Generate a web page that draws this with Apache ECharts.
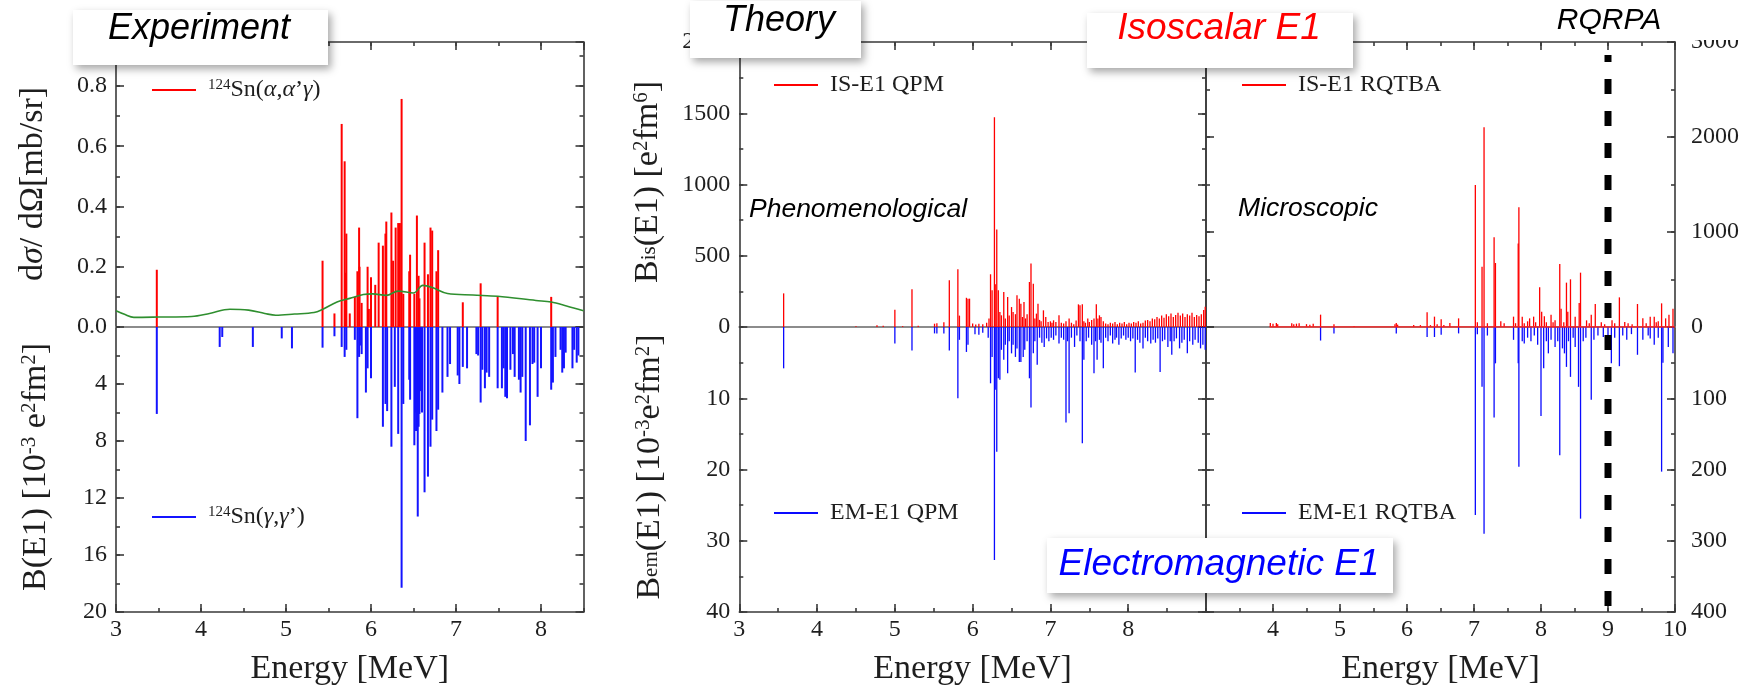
<!DOCTYPE html>
<html><head><meta charset="utf-8">
<script src="https://cdn.jsdelivr.net/npm/echarts@6/dist/echarts.min.js"></script>
<style>html,body{margin:0;padding:0;background:#fff}#c{width:1752px;height:691px}</style>
</head><body><div id="c"></div>
<script>
// ---------------- DATA ----------------
// Experiment: 124Sn(alpha,alpha'gamma) cross sections [mb/sr]  [energy MeV, value]
const expAlpha = [[3.48,0.19],[5.43,0.22],[5.57,0.045],[5.655,0.674],[5.69,0.55],[5.70,0.18],[5.71,0.31],[5.75,0.045],[5.81,0.10],[5.84,0.185],[5.86,0.33],[5.865,0.20],[5.89,0.08],[5.96,0.20],[5.975,0.06],[6.0,0.165],[6.05,0.14],[6.09,0.28],[6.14,0.27],[6.17,0.31],[6.18,0.35],[6.24,0.38],[6.26,0.22],[6.29,0.33],[6.32,0.345],[6.34,0.345],[6.36,0.757],[6.38,0.11],[6.45,0.185],[6.46,0.24],[6.51,0.11],[6.54,0.37],[6.56,0.17],[6.57,0.095],[6.63,0.28],[6.67,0.175],[6.70,0.33],[6.72,0.32],[6.77,0.185],[6.79,0.255],[7.08,0.082],[7.29,0.145],[7.49,0.10],[8.12,0.10]];
// Experiment: 124Sn(gamma,gamma') B(E1) [1e-3 e^2fm^2]
const expGamma = [[3.48,6.1],[4.22,1.4],[4.25,0.7],[4.61,1.4],[4.95,0.8],[5.07,1.5],[5.43,1.45],[5.57,0.65],[5.655,1.4],[5.69,2.1],[5.71,1.6],[5.81,0.9],[5.84,6.4],[5.86,2.1],[5.87,1.3],[5.89,1.9],[5.94,4.6],[5.96,2.9],[6.0,3.6],[6.14,7.0],[6.17,5.4],[6.19,5.9],[6.24,8.4],[6.28,4.2],[6.32,7.5],[6.36,18.3],[6.38,5.4],[6.45,3.7],[6.46,5.1],[6.51,8.3],[6.52,6.0],[6.53,7.3],[6.54,5.0],[6.55,13.3],[6.56,7.0],[6.57,6.1],[6.58,4.5],[6.59,3.4],[6.60,6.0],[6.63,11.6],[6.67,10.5],[6.70,8.4],[6.72,6.5],[6.77,7.3],[6.79,5.8],[6.84,4.6],[6.90,3.5],[6.93,2.6],[7.02,3.4],[7.04,4.0],[7.08,2.8],[7.13,2.9],[7.24,1.9],[7.26,2.0],[7.29,5.3],[7.31,3.0],[7.34,4.3],[7.36,3.2],[7.39,3.5],[7.49,4.3],[7.54,4.3],[7.56,2.9],[7.58,4.9],[7.60,5.0],[7.64,3.0],[7.67,1.9],[7.69,3.5],[7.74,3.7],[7.76,4.6],[7.78,3.5],[7.82,8.0],[7.87,6.9],[7.90,2.6],[7.92,2.5],[7.96,4.9],[8.00,2.9],[8.12,4.4],[8.14,3.9],[8.17,2.1],[8.23,1.6],[8.25,3.2],[8.27,2.9],[8.29,1.8],[8.37,2.9],[8.39,1.6],[8.42,2.5],[8.44,2.0]];
// Experiment: green smooth curve
const expCurve = [[3.0,0.054],[3.1,0.042],[3.21,0.032],[3.5,0.033],[3.89,0.035],[4.1,0.045],[4.34,0.059],[4.56,0.056],[4.75,0.045],[4.88,0.039],[5.1,0.043],[5.33,0.048],[5.42,0.057],[5.6,0.083],[5.75,0.095],[5.91,0.108],[6.02,0.11],[6.18,0.105],[6.32,0.119],[6.5,0.113],[6.61,0.138],[6.72,0.131],[6.9,0.111],[7.2,0.106],[7.49,0.102],[7.94,0.088],[8.12,0.083],[8.3,0.07],[8.5,0.054]];
// Theory QPM: isoscalar B_is(E1) [e^2fm^6]
const qpmIS = [[3.57,236],[4.5,5],[4.77,12],[4.85,8],[5.0,121],[5.1,6],[5.22,265],[5.3,8],[5.51,23],[5.54,27],[5.63,33],[5.70,328],[5.81,405],[5.83,80],[5.92,205],[5.94,199],[5.96,199],[6.0,25],[6.04,18],[6.08,22],[6.13,20],[6.18,30],[6.21,60],[6.23,370],[6.25,258],[6.28,1472],[6.29,300],[6.31,685],[6.33,258],[6.35,105],[6.37,82],[6.40,246],[6.42,60],[6.45,211],[6.47,80],[6.50,140],[6.52,105],[6.55,90],[6.57,222],[6.60,199],[6.62,164],[6.64,70],[6.66,176],[6.68,60],[6.70,90],[6.73,316],[6.75,445],[6.78,304],[6.80,60],[6.82,94],[6.84,164],[6.86,50],[6.88,40],[6.91,117],[6.94,70],[6.97,35],[7.0,40],[7.02,30],[7.04,47],[7.07,35],[7.11,82],[7.14,30],[7.17,25],[7.2,40],[7.24,59],[7.27,30],[7.3,20],[7.33,45],[7.36,159],[7.38,152],[7.41,159],[7.43,40],[7.45,30],[7.48,59],[7.5,35],[7.53,50],[7.56,60],[7.59,159],[7.61,60],[7.63,82],[7.65,70],[7.68,40],[7.71,25],[7.74,20],[7.77,30],[7.8,25],[7.83,35],[7.86,20],[7.89,30],[7.92,25],[7.95,35],[7.98,20],[8.01,30],[8.04,25],[8.07,35],[8.1,30],[8.13,40],[8.16,25],[8.19,30],[8.22,45],[8.25,50],[8.28,40],[8.31,60],[8.34,55],[8.37,70],[8.4,60],[8.43,80],[8.46,65],[8.49,90],[8.52,75],[8.55,95],[8.58,70],[8.61,85],[8.64,100],[8.67,80],[8.7,95],[8.73,70],[8.76,90],[8.79,80],[8.82,100],[8.85,70],[8.88,85],[8.91,75],[8.94,90],[8.97,120],[8.99,142]];
// Theory QPM: electromagnetic B_em(E1) [1e-3 e^2fm^2]
const qpmEM = [[3.57,5.8],[5.0,2.3],[5.22,3.3],[5.51,0.9],[5.54,0.9],[5.63,0.9],[5.70,3.3],[5.81,10.0],[5.83,1.8],[5.92,3.5],[5.94,2.5],[6.03,1.0],[6.08,1.1],[6.13,0.8],[6.2,1.5],[6.23,7.9],[6.25,4.2],[6.28,32.7],[6.29,8.8],[6.31,17.5],[6.33,7.2],[6.35,7.4],[6.37,3.2],[6.40,4.6],[6.42,2.5],[6.45,6.5],[6.47,2.0],[6.50,3.7],[6.52,2.5],[6.55,4.2],[6.57,3.0],[6.60,4.9],[6.62,4.9],[6.65,4.2],[6.67,3.2],[6.70,2.0],[6.73,7.2],[6.75,11.3],[6.78,3.7],[6.80,2.0],[6.83,5.3],[6.86,1.5],[6.89,2.2],[6.92,2.8],[6.95,1.6],[6.98,2.0],[7.01,1.5],[7.04,1.8],[7.07,1.2],[7.11,2.3],[7.14,1.5],[7.17,1.8],[7.20,13.4],[7.22,2.0],[7.24,12.1],[7.27,1.5],[7.31,2.8],[7.34,1.2],[7.38,2.0],[7.41,16.3],[7.43,4.6],[7.46,2.0],[7.49,1.5],[7.53,2.5],[7.56,6.5],[7.58,2.0],[7.60,4.6],[7.63,1.8],[7.65,2.2],[7.68,5.8],[7.71,1.5],[7.74,2.0],[7.77,1.2],[7.80,2.3],[7.83,1.8],[7.85,1.5],[7.88,2.5],[7.91,1.6],[7.94,1.2],[7.97,1.8],[8.0,1.5],[8.03,2.0],[8.06,1.6],[8.09,6.4],[8.12,1.8],[8.15,2.2],[8.19,3.0],[8.22,1.5],[8.25,2.0],[8.29,2.3],[8.32,1.8],[8.35,2.2],[8.38,1.6],[8.41,6.3],[8.44,2.0],[8.47,1.8],[8.51,2.8],[8.54,2.0],[8.56,3.9],[8.59,2.0],[8.62,1.6],[8.66,3.0],[8.69,2.2],[8.72,1.8],[8.76,3.7],[8.79,2.0],[8.83,2.5],[8.86,1.8],[8.9,2.2],[8.93,3.0],[8.96,2.5],[8.99,3.2]];
// Theory RQTBA: isoscalar (right axis, e^2fm^6)
const rqtbaIS = [[3.96,42],[4.0,35],[4.05,42],[4.07,30],[4.28,40],[4.31,30],[4.35,35],[4.39,40],[4.5,30],[4.55,25],[4.6,35],[4.71,130],[4.91,30],[5.21,10],[5.82,30],[5.84,42],[5.86,25],[6.1,20],[6.2,20],[6.30,154],[6.35,20],[6.41,109],[6.45,30],[6.51,81],[6.55,20],[6.64,42],[6.77,91],[7.02,1495],[7.05,50],[7.12,635],[7.15,2102],[7.2,40],[7.30,944],[7.32,674],[7.4,60],[7.45,40],[7.59,109],[7.62,40],[7.66,879],[7.67,1260],[7.72,109],[7.75,40],[7.80,60],[7.83,91],[7.89,109],[7.92,50],[7.98,418],[8.01,161],[8.05,112],[8.08,50],[8.15,130],[8.18,50],[8.21,70],[8.28,663],[8.30,193],[8.34,50],[8.38,467],[8.40,161],[8.44,502],[8.51,109],[8.57,252],[8.59,572],[8.68,70],[8.72,40],[8.75,130],[8.81,242],[8.9,50],[8.95,30],[9.06,70],[9.1,40],[9.17,312],[9.25,53],[9.3,40],[9.36,30],[9.44,242],[9.52,91],[9.57,40],[9.63,109],[9.69,109],[9.72,50],[9.75,60],[9.80,249],[9.86,91],[9.91,130],[9.97,193]];
const rqtbaBaseline = [[3.95,0],[10,0]];
// Theory RQTBA: electromagnetic (right axis, 1e-3 e^2fm^2)
const rqtbaEM = [[4.71,19],[4.91,9],[5.84,9],[6.30,14],[6.41,14],[6.51,11],[6.77,9],[7.02,264],[7.05,10],[7.12,84],[7.15,290],[7.2,12],[7.30,127],[7.32,51],[7.59,18],[7.66,51],[7.67,196],[7.72,20],[7.75,23],[7.8,15],[7.85,20],[7.9,12],[7.95,25],[8.0,125],[8.04,58],[8.08,20],[8.11,37],[8.15,18],[8.21,28],[8.25,20],[8.28,180],[8.32,30],[8.35,37],[8.38,56],[8.41,20],[8.44,70],[8.48,15],[8.51,28],[8.56,84],[8.59,269],[8.63,20],[8.67,15],[8.75,102],[8.79,18],[8.85,12],[8.93,14],[9.0,20],[9.05,51],[9.1,15],[9.17,55],[9.22,12],[9.28,18],[9.35,10],[9.44,39],[9.52,18],[9.6,12],[9.63,16],[9.69,25],[9.75,15],[9.80,203],[9.82,50],[9.9,28],[9.97,37]];
// RQRPA marker energy (dashed vertical line), spanning the whole panel
const rqrpaLine = [[9,0],[9,1]];
// axis ranges: [min, max, major interval]
const xRanges = [[3,8.5,1],[3,9,1],[3,10,1]];
const upRanges = [[0,0.946,0.2],[0,2000,500],[0,3000,1000]];
const loRanges = [[0,20,4],[0,40,10],[0,400,100]];
const seriesNames = ["124Sn(α,α'γ)","124Sn(γ,γ')","IS-E1 QPM","EM-E1 QPM","IS-E1 RQTBA","EM-E1 RQTBA"];

// ---------------- LAYOUT ----------------
const SERIF = '"Liberation Serif","Times New Roman",serif';
const SANS = '"Liberation Sans",Arial,sans-serif';
const AX = '#3a3a3a';
const plain = v => String(v);
const panelLayout = [
  {left:116, width:467.5, leftLabels:true, rightLabels:false, xExtra:{showMaxLabel:false}, upFmt:v=>v.toFixed(1), upShowMax:false},
  {left:739.3, width:466.7, leftLabels:true, rightLabels:false, xExtra:{showMaxLabel:false}, upFmt:plain, upShowMax:true},
  {left:1206, width:469, leftLabels:false, rightLabels:true, xExtra:{showMinLabel:false}, upFmt:plain, upShowMax:true}
];
const grids=[], xAxes=[], yAxes=[], series=[];
function addGrid(g){grids.push(Object.assign({outerBoundsMode:'none',containLabel:false},g));return grids.length-1;}
function mkAxis(kind, gi, pos, r, interval, tickLen, o){
  o=o||{};
  const a={type:'value',gridIndex:gi,position:pos,min:r[0],max:r[1],interval:interval,inverse:!!o.inverse,
    axisLine:{show:!!o.line,onZero:false,lineStyle:{color:o.lineColor||AX,width:o.lineWidth||1.6}},
    axisTick:{show:tickLen>0,inside:true,length:tickLen,lineStyle:{color:AX,width:1.6}},
    axisLabel:o.labels?Object.assign({show:true,fontFamily:SERIF,fontSize:24,color:'#1e1e1e',margin:o.margin||9,formatter:plain},o.labelExtra||{}):{show:false},
    splitLine:{show:false},minorTick:{show:false},axisPointer:{show:false},silent:true};
  if(o.name)Object.assign(a,o.name);
  const arr=kind==='x'?xAxes:yAxes;arr.push(a);return arr.length-1;
}
const idx=[];
panelLayout.forEach((p,i)=>{
  const xr=xRanges[i], ur=upRanges[i], lr=loRanges[i];
  const gU=addGrid({left:p.left,top:42,width:p.width,height:285});
  const gL=addGrid({left:p.left,top:327,width:p.width,height:285});
  const xU=mkAxis('x',gU,'bottom',xr,xr[2],0,{line:true,lineColor:'#8c8c8c',lineWidth:2});
  mkAxis('x',gU,'top',xr,xr[2],8,{line:true});
  mkAxis('x',gU,'top',xr,xr[2]/2,4,{});
  const xL=mkAxis('x',gL,'bottom',xr,xr[2],8,{line:true,labels:true,margin:6,labelExtra:p.xExtra,
    name:{name:'Energy [MeV]',nameLocation:'middle',nameGap:40,nameTextStyle:{fontFamily:SERIF,fontSize:34,color:'#1e1e1e'}}});
  mkAxis('x',gL,'bottom',xr,xr[2]/2,4,{});
  const upLab={showMaxLabel:p.upShowMax,formatter:p.upFmt};
  const yU=mkAxis('y',gU,'left',ur,ur[2],8,{line:true,labels:p.leftLabels,labelExtra:upLab});
  mkAxis('y',gU,'left',ur,ur[2]/2,4,{});
  mkAxis('y',gU,'right',ur,ur[2],8,{line:true,labels:p.rightLabels,margin:16,labelExtra:{align:'left'}});
  mkAxis('y',gU,'right',ur,ur[2]/2,4,{});
  const yL=mkAxis('y',gL,'left',lr,lr[2],8,{line:true,inverse:true,labels:p.leftLabels,labelExtra:{showMinLabel:false}});
  mkAxis('y',gL,'left',lr,lr[2]/2,4,{inverse:true});
  mkAxis('y',gL,'right',lr,lr[2],8,{line:true,inverse:true,labels:p.rightLabels,margin:16,labelExtra:{showMinLabel:false,align:'left'}});
  mkAxis('y',gL,'right',lr,lr[2]/2,4,{inverse:true});
  idx.push({xU,xL,yU,yL});
});
// overlay grid for the RQRPA dashed line
const gO=addGrid({left:1206,top:55,width:469,height:551});
const xO=mkAxis('x',gO,'bottom',xRanges[2],1,0,{});xAxes[xO].show=false;
const yO=mkAxis('y',gO,'left',[0,1],1,0,{});yAxes[yO].show=false;

function bars(name,k,up,data,color,w){
  const a=idx[k];
  series.push({type:'bar',name:name,xAxisIndex:up?a.xU:a.xL,yAxisIndex:up?a.yU:a.yL,data:data,barWidth:w,
    itemStyle:{color:color},silent:true,z:3});
}
bars(seriesNames[0],0,true,expAlpha,'#ff0000',2);
bars(seriesNames[1],0,false,expGamma,'#1414ff',2);
bars(seriesNames[2],1,true,qpmIS,'#ff0000',1.3);
bars(seriesNames[3],1,false,qpmEM,'#0a0aff',1.3);
bars(seriesNames[4],2,true,rqtbaIS,'#ff0000',1.3);
bars(seriesNames[5],2,false,rqtbaEM,'#0a0aff',1.3);
series.push({type:'line',name:'curve',xAxisIndex:idx[0].xU,yAxisIndex:idx[0].yU,data:expCurve,smooth:0.35,
  showSymbol:false,symbol:'none',lineStyle:{color:'#2f8f2f',width:1.6},silent:true,z:4});
series.push({type:'line',name:'base',xAxisIndex:idx[2].xU,yAxisIndex:idx[2].yU,data:rqtbaBaseline,
  showSymbol:false,symbol:'none',lineStyle:{color:'#ff2020',width:1.6},silent:true,z:4});
series.push({type:'line',name:'RQRPA',xAxisIndex:xO,yAxisIndex:yO,data:rqrpaLine,showSymbol:false,symbol:'none',
  lineStyle:{color:'#000',width:7,type:[15,17],cap:'butt'},silent:true,z:5});

// legends
const legRich={m:{fontFamily:SERIF,fontSize:24,color:'#1e1e1e',lineHeight:24,padding:[3,0,0,0],verticalAlign:'bottom'},
  g:{fontFamily:SERIF,fontSize:24,fontStyle:'italic',color:'#1e1e1e',lineHeight:24,padding:[3,0,0,0],verticalAlign:'bottom'},
  s:{fontFamily:SERIF,fontSize:15,color:'#1e1e1e',lineHeight:15,verticalAlign:'top'}};
function legend(i,left,cy,fmt){
  return {data:[seriesNames[i]],left:left,top:cy-13,padding:0,itemWidth:44,itemHeight:2,icon:'rect',selectedMode:false,
    formatter:fmt,textStyle:{fontFamily:SERIF,fontSize:24,color:'#1e1e1e',padding:[0,0,0,7],rich:legRich}};
}
const legends=[
  legend(0,152,88,()=>"{s|124}{m|Sn(}{g|α}{m|,}{g|α}{m|’}{g|γ}{m|)}"),
  legend(1,152,515,()=>"{s|124}{m|Sn(}{g|γ}{m|,}{g|γ}{m|’)}"),
  legend(2,774,83,n=>'{m|'+n+'}'),
  legend(3,774,511,n=>'{m|'+n+'}'),
  legend(4,1242,83,n=>'{m|'+n+'}'),
  legend(5,1242,511,n=>'{m|'+n+'}')
];

// graphics: boxes, annotations, y titles
const graphics=[];
graphics.push({type:'rect',z:99,shape:{x:1684,y:0,width:68,height:40},style:{fill:'#fff'}});
function box(x,y,w,h){graphics.push({type:'rect',z:100,shape:{x:x,y:y,width:w,height:h},
  style:{fill:'#fff',shadowBlur:8,shadowOffsetX:3,shadowOffsetY:4,shadowColor:'rgba(0,0,0,0.35)'}});}
function note(text,x,y,size,color){graphics.push({type:'text',z:101,x:x,y:y,
  style:{text:text,font:'italic '+size+'px '+SANS,fill:color,align:'center',verticalAlign:'middle'}});}
box(73,10,255,55); note('Experiment',199,29,36,'#000');
box(690,1,171,57); note('Theory',779,21,36,'#000');
box(1087,13,266,55); note('Isoscalar E1',1219,29,37,'#ff0000');
box(1047,538,346,55); note('Electromagnetic E1',1219,565,37,'#0000ff');
note('RQRPA',1609,21,30,'#000');
note('Phenomenological',858,210,26.5,'#000');
note('Microscopic',1308,209,26.5,'#000');
const TR={m:{fontFamily:SERIF,fontSize:34,lineHeight:34,padding:[8,0,8,0],verticalAlign:'middle'},
  mi:{fontFamily:SERIF,fontSize:34,fontStyle:'italic',lineHeight:34,padding:[8,0,8,0],verticalAlign:'middle'},
  sup:{fontFamily:SERIF,fontSize:21,lineHeight:21,verticalAlign:'top'},
  sub:{fontFamily:SERIF,fontSize:21,lineHeight:21,padding:[0,0,5,0],verticalAlign:'bottom'}};
function ytitle(text,x,y){graphics.push({type:'text',z:101,x:x,y:y,rotation:Math.PI/2,
  style:{text:text,rich:TR,font:'34px '+SERIF,fill:'#1e1e1e',align:'center',verticalAlign:'middle'}});}
ytitle('{m|d}{mi|σ}{m|/ dΩ[mb/sr]}',33,184);
ytitle('{m|B(E1) [10}{sup|-3}{m| e}{sup|2}{m|fm}{sup|2}{m|]}',36,467);
ytitle('{m|B}{sub|is}{m|(E1) [e}{sup|2}{m|fm}{sup|6}{m|]}',648,182);
ytitle('{m|B}{sub|em}{m|(E1) [10}{sup|-3}{m|e}{sup|2}{m|fm}{sup|2}{m|]}',650,467);

const chart=echarts.init(document.getElementById('c'),null,{renderer:'canvas'});
chart.setOption({animation:false,backgroundColor:'#fff',textStyle:{fontFamily:SERIF},grid:grids,xAxis:xAxes,yAxis:yAxes,series:series,
  legend:legends,graphic:{elements:graphics}});
</script></body></html>
